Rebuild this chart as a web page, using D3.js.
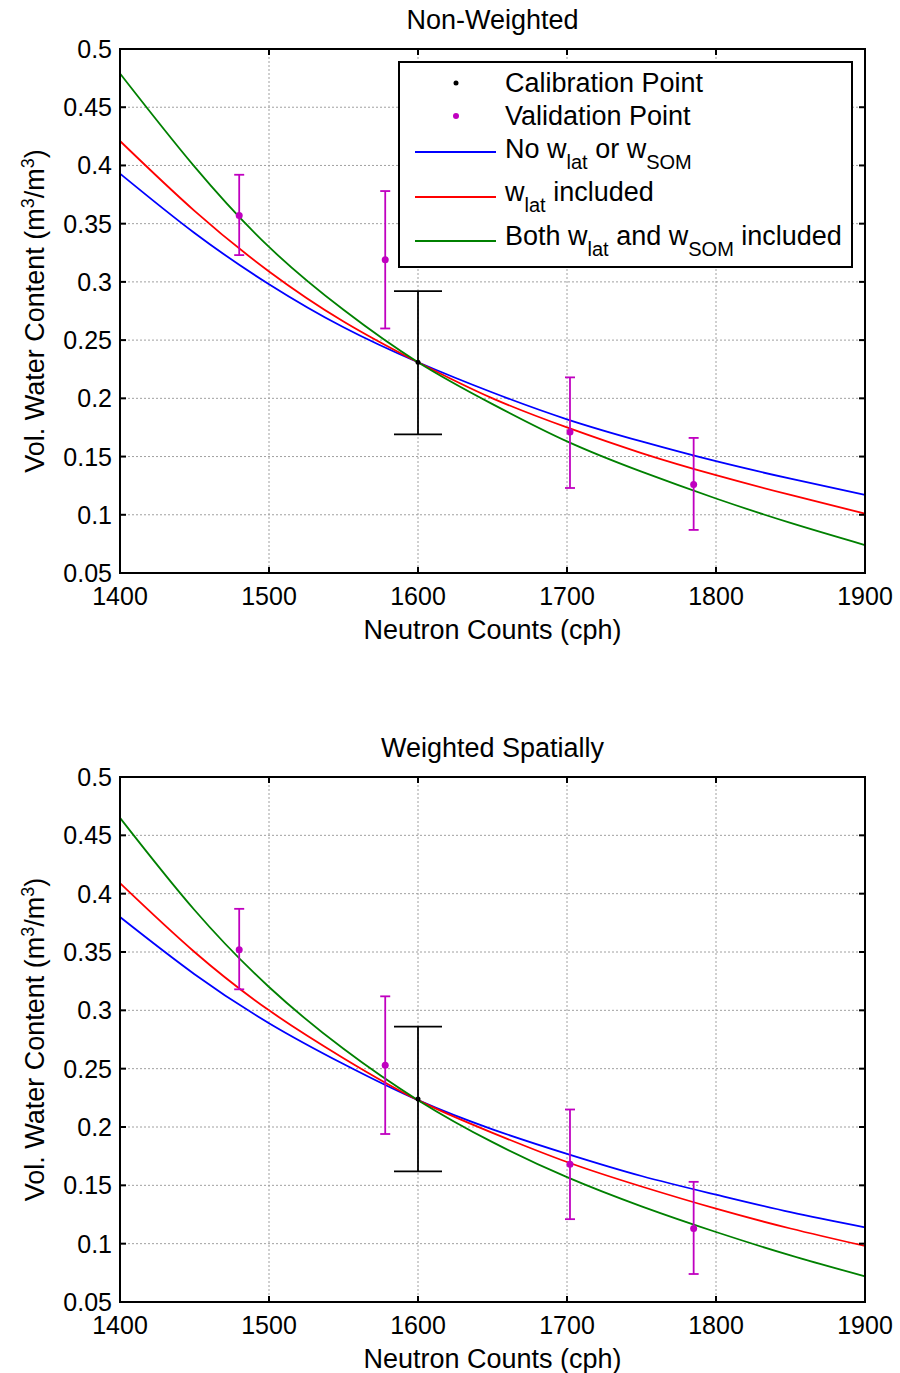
<!DOCTYPE html>
<html>
<head>
<meta charset="utf-8">
<script src="https://cdn.jsdelivr.net/npm/d3@7"></script>
<style>
  body { margin: 0; background: #fff; }
  svg text { font-family: "Liberation Sans", Arial, sans-serif; fill: #000; }
</style>
</head>
<body>
<div id="chart"></div>
<script>
// data
var counts = [1400, 1450, 1500, 1550, 1600, 1650, 1700, 1750, 1800, 1850, 1900];

var topNoW   = [0.393, 0.342, 0.298, 0.261, 0.231, 0.205, 0.182, 0.163, 0.146, 0.131, 0.117];
var topLat   = [0.421, 0.361, 0.309, 0.266, 0.231, 0.200, 0.175, 0.153, 0.134, 0.117, 0.101];
var topBoth  = [0.479, 0.399, 0.330, 0.276, 0.231, 0.195, 0.163, 0.137, 0.114, 0.093, 0.074];

var botNoW   = [0.380, 0.331, 0.289, 0.254, 0.223, 0.198, 0.177, 0.158, 0.142, 0.127, 0.114];
var botLat   = [0.409, 0.350, 0.300, 0.259, 0.223, 0.195, 0.170, 0.149, 0.130, 0.113, 0.098];
var botBoth  = [0.465, 0.386, 0.320, 0.267, 0.223, 0.187, 0.157, 0.132, 0.110, 0.090, 0.072];

var valCounts  = [1480, 1578, 1702, 1785];
var topVal     = [0.357, 0.319, 0.171, 0.126];
var topValLo   = [0.323, 0.260, 0.123, 0.087];
var topValHi   = [0.392, 0.378, 0.218, 0.166];
var botVal     = [0.352, 0.253, 0.168, 0.113];
var botValLo   = [0.318, 0.194, 0.121, 0.074];
var botValHi   = [0.387, 0.312, 0.215, 0.153];

var calCounts  = [1600];
var topCal     = [0.231];
var topCalLo   = [0.169];
var topCalHi   = [0.292];
var botCal     = [0.224];
var botCalLo   = [0.162];
var botCalHi   = [0.286];

var xTicks = [1400, 1500, 1600, 1700, 1800, 1900];
var yTicks = [0.05, 0.1, 0.15, 0.2, 0.25, 0.3, 0.35, 0.4, 0.45, 0.5];

var seriesColors = ["#0000ff", "#ff0000", "#008000"];

var W = 900, H = 1373;
var svg = d3.select("#chart").append("svg")
	.attr("width", W)
	.attr("height", H);

var left = 120, right = 865;
var x = d3.scaleLinear().domain([1400, 1900]).range([left, right]);

var tickFont = "25px", labelFont = "27px";

function drawPanel(top, bottom, title, curves, val, cal, withLegend){
	var y = d3.scaleLinear().domain([0.05, 0.5]).range([bottom, top]);
	var g = svg.append("g");

	// grid
	g.append("g").selectAll("line.vg")
		.data(xTicks.slice(1, -1)).enter().append("line")
		.attr("x1", d => x(d)).attr("x2", d => x(d))
		.attr("y1", top).attr("y2", bottom)
		.attr("stroke", "#a0a0a0").attr("stroke-width", 1)
		.attr("stroke-dasharray", "2,2");
	g.append("g").selectAll("line.hg")
		.data(yTicks.slice(1, -1)).enter().append("line")
		.attr("x1", left).attr("x2", right)
		.attr("y1", d => y(d)).attr("y2", d => y(d))
		.attr("stroke", "#a0a0a0").attr("stroke-width", 1)
		.attr("stroke-dasharray", "2,2");

	// curves
	var line = d3.line()
		.x((d, i) => x(counts[i]))
		.y(d => y(d))
		.curve(d3.curveNatural);
	curves.forEach(function(c, k){
		g.append("path")
			.attr("d", line(c))
			.attr("fill", "none")
			.attr("stroke", seriesColors[k])
			.attr("stroke-width", 1.8);
	});

	// error bars
	function errBars(cx, v, lo, hi, color, cap, r){
		var eg = g.append("g");
		cx.forEach(function(n, i){
			eg.append("line")
				.attr("x1", x(n)).attr("x2", x(n))
				.attr("y1", y(lo[i])).attr("y2", y(hi[i]))
				.attr("stroke", color).attr("stroke-width", 1.8);
			[lo[i], hi[i]].forEach(function(e){
				eg.append("line")
					.attr("x1", x(n) - cap).attr("x2", x(n) + cap)
					.attr("y1", y(e)).attr("y2", y(e))
					.attr("stroke", color).attr("stroke-width", 1.8);
			});
			eg.append("circle")
				.attr("cx", x(n)).attr("cy", y(v[i]))
				.attr("r", r).attr("fill", color);
		});
	}
	errBars(calCounts, cal[0], cal[1], cal[2], "#000", 24, 2.5);
	errBars(valCounts, val[0], val[1], val[2], "#c000c0", 5, 3.5);

	// frame and ticks
	g.append("rect")
		.attr("x", left).attr("y", top)
		.attr("width", right - left).attr("height", bottom - top)
		.attr("fill", "none").attr("stroke", "#000").attr("stroke-width", 2);
	var tk = 6;
	g.append("g").selectAll("line")
		.data(xTicks.slice(1, -1)).enter().append("line")
		.attr("x1", d => x(d)).attr("x2", d => x(d))
		.attr("y1", bottom).attr("y2", bottom - tk)
		.attr("stroke", "#000").attr("stroke-width", 2);
	g.append("g").selectAll("line")
		.data(xTicks.slice(1, -1)).enter().append("line")
		.attr("x1", d => x(d)).attr("x2", d => x(d))
		.attr("y1", top).attr("y2", top + tk)
		.attr("stroke", "#000").attr("stroke-width", 2);
	g.append("g").selectAll("line")
		.data(yTicks.slice(1, -1)).enter().append("line")
		.attr("x1", left).attr("x2", left + tk)
		.attr("y1", d => y(d)).attr("y2", d => y(d))
		.attr("stroke", "#000").attr("stroke-width", 2);
	g.append("g").selectAll("line")
		.data(yTicks.slice(1, -1)).enter().append("line")
		.attr("x1", right).attr("x2", right - tk)
		.attr("y1", d => y(d)).attr("y2", d => y(d))
		.attr("stroke", "#000").attr("stroke-width", 2);

	// tick labels
	g.append("g").selectAll("text")
		.data(xTicks).enter().append("text")
		.attr("x", d => x(d)).attr("y", bottom + 32)
		.attr("text-anchor", "middle")
		.style("font-size", tickFont)
		.text(d => d);
	g.append("g").selectAll("text")
		.data(yTicks).enter().append("text")
		.attr("x", left - 8).attr("y", d => y(d) + 9)
		.attr("text-anchor", "end")
		.style("font-size", tickFont)
		.text(d => d3.format("")(+d.toFixed(2)));

	// titles
	g.append("text")
		.attr("x", (left + right) / 2).attr("y", top - 20)
		.attr("text-anchor", "middle")
		.style("font-size", labelFont)
		.text(title);
	g.append("text")
		.attr("x", (left + right) / 2).attr("y", bottom + 66)
		.attr("text-anchor", "middle")
		.style("font-size", labelFont)
		.text("Neutron Counts (cph)");

	var yl = g.append("text")
		.attr("transform", "translate(44," + ((top + bottom) / 2) + ") rotate(-90)")
		.attr("text-anchor", "middle")
		.style("font-size", labelFont);
	yl.append("tspan").text("Vol. Water Content (m");
	yl.append("tspan").attr("baseline-shift", "super").style("font-size", "18px").text("3");
	yl.append("tspan").text("/m");
	yl.append("tspan").attr("baseline-shift", "super").style("font-size", "18px").text("3");
	yl.append("tspan").text(")");

	if(withLegend){
		drawLegend(g);
	}
}

function drawLegend(g){
	var lx = 399, ly = 62, lw = 453, lh = 205;
	var lg = g.append("g");
	lg.append("rect")
		.attr("x", lx).attr("y", ly).attr("width", lw).attr("height", lh)
		.attr("fill", "#fff").attr("stroke", "#000").attr("stroke-width", 2);

	var tx = 505;
	var rows = [92, 125, 158, 201, 245];
	var marks = [83, 116, 152, 197, 241];

	// markers
	lg.append("circle").attr("cx", 456).attr("cy", marks[0]).attr("r", 2.5).attr("fill", "#000");
	lg.append("circle").attr("cx", 456).attr("cy", marks[1]).attr("r", 3).attr("fill", "#c000c0");
	[2, 3, 4].forEach(function(r, k){
		lg.append("line")
			.attr("x1", 415).attr("x2", 496)
			.attr("y1", marks[r]).attr("y2", marks[r])
			.attr("stroke", seriesColors[k]).attr("stroke-width", 1.8);
	});

	function sub(t, s){
		t.append("tspan").attr("baseline-shift", "sub").style("font-size", "20px").text(s);
	}
	var fs = "27px";
	lg.append("text").attr("x", tx).attr("y", rows[0]).style("font-size", fs).text("Calibration Point");
	lg.append("text").attr("x", tx).attr("y", rows[1]).style("font-size", fs).text("Validation Point");

	var t2 = lg.append("text").attr("x", tx).attr("y", rows[2]).style("font-size", fs);
	t2.append("tspan").text("No w");
	sub(t2, "lat");
	t2.append("tspan").attr("baseline-shift", "0").text(" or w");
	sub(t2, "SOM");

	var t3 = lg.append("text").attr("x", tx).attr("y", rows[3]).style("font-size", fs);
	t3.append("tspan").text("w");
	sub(t3, "lat");
	t3.append("tspan").attr("baseline-shift", "0").text(" included");

	var t4 = lg.append("text").attr("x", tx).attr("y", rows[4]).style("font-size", fs);
	t4.append("tspan").text("Both w");
	sub(t4, "lat");
	t4.append("tspan").attr("baseline-shift", "0").text(" and w");
	sub(t4, "SOM");
	t4.append("tspan").attr("baseline-shift", "0").text(" included");
}

drawPanel(49, 573, "Non-Weighted",
	[topNoW, topLat, topBoth],
	[topVal, topValLo, topValHi],
	[topCal, topCalLo, topCalHi], true);

drawPanel(777, 1302, "Weighted Spatially",
	[botNoW, botLat, botBoth],
	[botVal, botValLo, botValHi],
	[botCal, botCalLo, botCalHi], false);
</script>
</body>
</html>
